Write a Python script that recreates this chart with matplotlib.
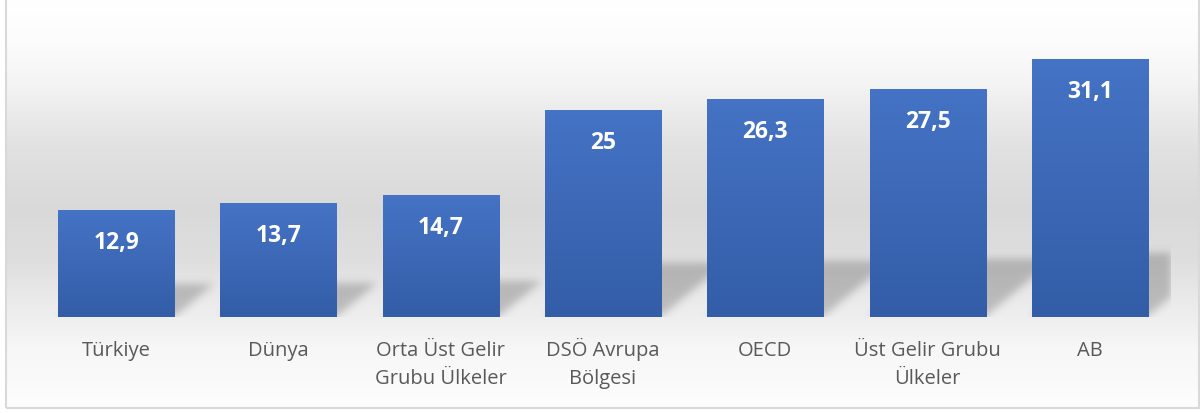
import numpy as np
import matplotlib
matplotlib.use("Agg")
import matplotlib.pyplot as plt
from matplotlib.patches import Rectangle
from matplotlib.colors import LinearSegmentedColormap

categories = ["Türkiye", "Dünya", "Orta Üst Gelir\nGrubu Ülkeler", "DSÖ Avrupa\nBölgesi",
              "OECD", "Üst Gelir Grubu\nÜlkeler", "AB"]
values = [12.9, 13.7, 14.7, 25, 26.3, 27.5, 31.1]
value_labels = ["12,9", "13,7", "14,7", "25", "26,3", "27,5", "31,1"]

W, H, DPI = 1200, 414, 100
fig = plt.figure(figsize=(W / DPI, H / DPI), dpi=DPI)
fig.patch.set_facecolor("white")

# ---- background gradient (chart area) ----
bx0, bx1, by_top, by_bot = 6, 1198, 0, 408
bg = fig.add_axes([bx0 / W, 1 - by_bot / H, (bx1 - bx0) / W, (by_bot - by_top) / H], zorder=-5)
rows = np.arange(by_top, by_bot)
stops_y = [0, 40, 80, 110, 150, 210, 260, 300, 350, 408]
stops_v = [255, 252, 245, 236, 225, 217, 222, 234, 247, 253]
prof = np.interp(rows, stops_y, stops_v) / 255.0
img = np.repeat(prof[:, None], 10, axis=1)
img = np.dstack([img, img, img])
bg.imshow(img, aspect="auto", extent=(0, 1, 0, 1), origin="upper")
bg.set_axis_off()

# ---- main axes ----
ax_left, ax_right, ax_top, ax_bot = 35, 1171, 27.6, 318
ax = fig.add_axes([ax_left / W, 1 - ax_bot / H, (ax_right - ax_left) / W, (ax_bot - ax_top) / H])
ax.set_facecolor("none")
ymax = 35
n = len(values)
x = np.arange(n)
ax.set_xlim(-0.5, n - 0.5)
ax.set_ylim(0, ymax)
for s in ax.spines.values():
    s.set_visible(False)
ax.set_xticks([])
ax.set_yticks([])

bw = 0.715
bars = ax.bar(x, values, width=bw, color="#3B67B6", zorder=3)

# gradient fill for bars
cmap = LinearSegmentedColormap.from_list("bar", ["#335DA7", "#4573C5"])
grad = np.linspace(0, 1, 256)[:, None]
for b in bars:
    bx, bwid, bh = b.get_x(), b.get_width(), b.get_height()
    im = ax.imshow(grad, cmap=cmap, aspect="auto", origin="lower",
                   extent=(bx, bx + bwid, 0, bh), zorder=3.5)
    im.set_clip_path(b)

# ---- soft perspective shadows ----
px_w = ax_right - ax_left
px_h = ax_bot - ax_top
nx, ny = int(px_w), int(px_h)
xs = np.linspace(-0.5, n - 0.5, nx)
ys = np.linspace(0, ymax, ny)
XX, YY = np.meshgrid(xs, ys)
ppx = px_w / n
ppy = px_h / ymax
mask = np.zeros_like(XX)
for b in bars:
    L, R, h = b.get_x(), b.get_x() + b.get_width(), b.get_height()
    kh = (10 + 0.21 * h * ppy) / ppy
    dx = 1.2 * kh * ppy / ppx
    t = YY / kh
    m = (YY >= 0) & (YY <= kh) & (XX >= L + t * dx) & (XX <= R + t * dx)
    mask = np.maximum(mask, m.astype(float))

def blur(a, sigma):
    r = int(3 * sigma)
    k = np.exp(-0.5 * (np.arange(-r, r + 1) / sigma) ** 2)
    k /= k.sum()
    a = np.apply_along_axis(lambda v: np.convolve(v, k, mode="same"), 1, a)
    a = np.apply_along_axis(lambda v: np.convolve(v, k, mode="same"), 0, a)
    return a

mask = blur(mask, 4.0)
shadow = np.zeros((ny, nx, 4))
shadow[..., 0:3] = 0.25
shadow[..., 3] = mask * 0.28
ax.imshow(shadow, aspect="auto", origin="lower", extent=(-0.5, n - 0.5, 0, ymax), zorder=2)
ax.set_xlim(-0.5, n - 0.5)
ax.set_ylim(0, ymax)

# ---- value labels ----
for xi, v, lab in zip(x, values, value_labels):
    ax.annotate(lab, (xi, v), xytext=(0, -38 * 72 / DPI), textcoords="offset points",
                ha="center", va="baseline", color="white", fontsize=16.5,
                fontweight="bold", family="Open Sans", zorder=5)

# ---- category labels ----
for xi, cat in zip(x, categories):
    for j, line in enumerate(cat.split("\n")):
        ax.annotate(line, (xi, 0), xytext=(0, -(38 + 28 * j) * 72 / DPI),
                    textcoords="offset points", ha="center", va="baseline",
                    color="#595959", fontsize=14.5, family="Open Sans",
                    annotation_clip=False)

# ---- frame ----
fig.patches.append(Rectangle((5.5 / W, 1 - 408.5 / H), (1198.5 - 5.5) / W, 408.5 / H + 0.01,
                             transform=fig.transFigure, fill=False,
                             edgecolor="#D9D9D9", linewidth=1.5))

fig.savefig("out.png", dpi=DPI)
